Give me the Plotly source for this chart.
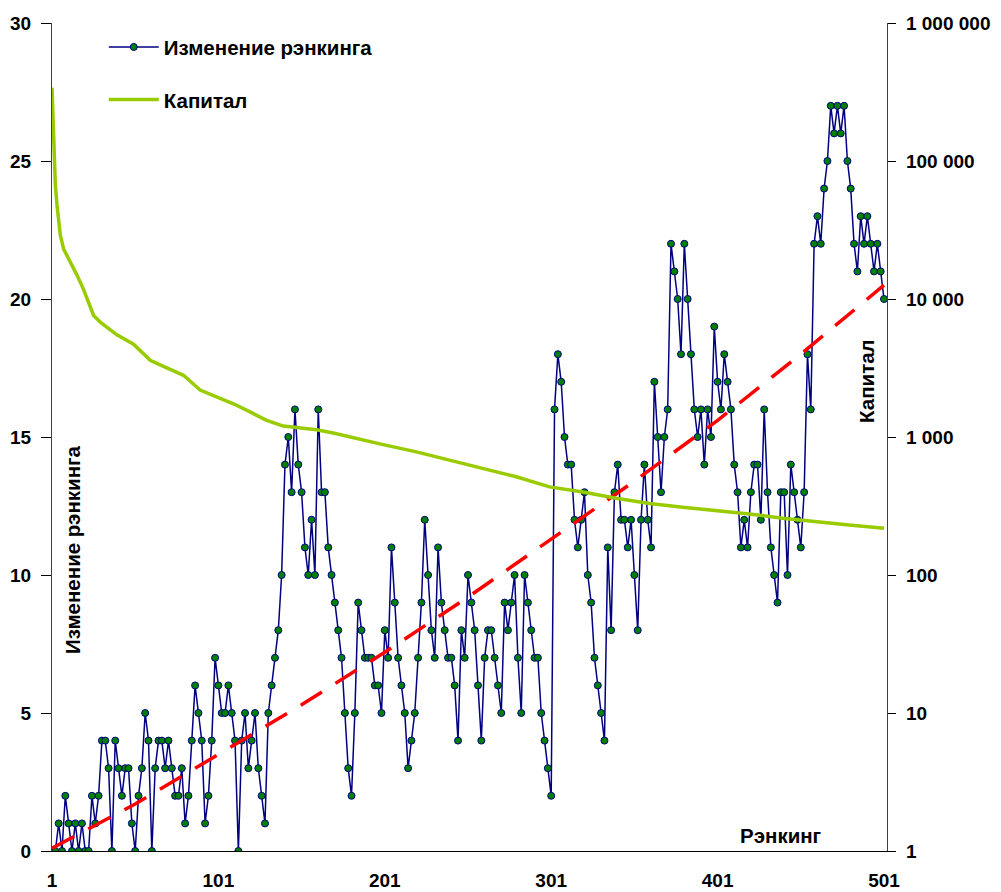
import plotly.graph_objects as go

# ---------------- data ----------------
rank_ticks = [1, 101, 201, 301, 401, 501]
rank_labels = ["1", "101", "201", "301", "401", "501"]

ranks = list(range(1, 502, 2))
ranking_change = [
    0, 0, 1, 0, 2, 1, 0, 1, 0, 1,
    0, 0, 2, 1, 2, 4, 4, 3, 0, 4,
    3, 2, 3, 3, 1, 0, 2, 3, 5, 4,
    0, 3, 4, 4, 3, 4, 3, 2, 2, 3,
    1, 2, 4, 6, 5, 4, 1, 2, 4, 7,
    6, 5, 5, 6, 5, 4, 0, 4, 5, 3,
    4, 5, 3, 2, 1, 5, 6, 7, 8, 10,
    14, 15, 13, 16, 14, 13, 11, 10, 12, 10,
    16, 13, 13, 11, 10, 9, 8, 7, 5, 3,
    2, 5, 9, 8, 7, 7, 7, 6, 6, 5,
    8, 7, 11, 9, 7, 6, 5, 3, 4, 5,
    7, 9, 12, 10, 8, 7, 11, 9, 8, 7,
    7, 6, 4, 8, 7, 10, 9, 8, 6, 4,
    7, 8, 8, 7, 6, 5, 9, 8, 9, 10,
    7, 5, 10, 9, 8, 7, 7, 5, 4, 3,
    2, 16, 18, 17, 15, 14, 14, 12, 11, 12,
    13, 10, 9, 7, 6, 5, 4, 11, 8, 13,
    14, 12, 12, 11, 12, 10, 8, 12, 14, 12,
    11, 17, 15, 13, 15, 16, 22, 21, 20, 18,
    22, 20, 18, 16, 15, 16, 14, 16, 15, 19,
    17, 16, 18, 17, 16, 14, 13, 11, 12, 11,
    13, 14, 14, 12, 16, 13, 11, 10, 9, 13,
    13, 10, 14, 13, 12, 11, 13, 18, 16, 22,
    23, 22, 24, 25, 27, 26, 27, 26, 27, 25,
    24, 22, 21, 23, 22, 23, 22, 21, 22, 21,
    20,
]

capital_ranks = [1, 2, 3, 4, 6, 8, 12, 16, 20, 26, 30, 40, 50, 60, 70, 80, 90,
                 100, 110, 120, 130, 140, 150, 160, 170, 180, 200, 220, 240,
                 260, 280, 300, 320, 340, 360, 380, 400, 420, 440, 460, 480, 501]
capital = [340000, 120000, 67000, 48000, 29000, 23000, 18600, 14900, 11700,
           7600, 6800, 5500, 4700, 3600, 3170, 2800, 2190, 1950, 1740, 1520,
           1320, 1200, 1160, 1130, 1070, 1000, 880, 780, 680, 595, 515, 435,
           400, 360, 330, 310, 295, 277, 258, 242, 230, 218]

trend_ranks = [1, 51, 101, 151, 201, 251, 301, 351, 401, 451, 501]
trend_values = [0.1, 1.7, 3.5, 5.3, 7.2, 9.2, 11.3, 13.4, 15.6, 18.0, 20.5]

cap_ticks = [1, 10, 100, 1000, 10000, 100000, 1000000]
cap_labels = ["1", "10", "100", "1 000", "10 000", "100 000", "1 000 000"]

left_ticks = [0, 5, 10, 15, 20, 25, 30]

# ---------------- styling ----------------
FONT = "Liberation Sans, Arial, sans-serif"
FS = 19      # tick labels
TFS = 20.5   # legend / titles

fig = go.Figure()

fig.add_trace(go.Scatter(
    x=ranks, y=ranking_change, name="Изменение рэнкинга",
    mode="lines+markers",
    line=dict(color="#000080", width=1.5),
    marker=dict(color="#008000", size=7, line=dict(color="#000080", width=1)),
    legendgroup="a", xaxis="x", yaxis="y",
))

fig.add_trace(go.Scatter(
    x=capital_ranks, y=capital, name="Капитал",
    mode="lines",
    line=dict(color="#99CC00", width=3.5),
    legendgroup="b", xaxis="x", yaxis="y2",
))

fig.add_trace(go.Scatter(
    x=trend_ranks, y=trend_values, name="trend",
    mode="lines", line=dict(color="#FF0000", width=3.5, dash="25px,16px"),
    showlegend=False, xaxis="x", yaxis="y",
))

fig.update_layout(
    width=1001, height=892,
    margin=dict(l=52, r=114, t=23, b=41, autoexpand=False),
    paper_bgcolor="white", plot_bgcolor="white",
    font=dict(family=FONT, size=FS, color="black"),
    showlegend=True,
    legend=dict(
        x=0.062, y=0.995, xanchor="left", yanchor="top",
        bgcolor="rgba(0,0,0,0)", borderwidth=0,
        font=dict(family=FONT, size=TFS, color="black", weight="bold"),
        traceorder="grouped", tracegroupgap=23, itemwidth=50,
    ),
    xaxis=dict(
        range=[1, 502.8], tickmode="array", tickvals=rank_ticks,
        ticktext=rank_labels, showgrid=False, zeroline=False,
        showline=True, linecolor="black", linewidth=1.3, ticks="",
        tickfont=dict(family=FONT, size=FS, color="black", weight="bold"),
        ticklabelstandoff=12,
    ),
    yaxis=dict(
        range=[0, 30], tickmode="array", tickvals=left_ticks,
        showgrid=False, zeroline=False, showline=True, linecolor="#404040",
        linewidth=1.3, ticks="outside", ticklen=10, tickcolor="black",
        tickwidth=1.2,
        tickfont=dict(family=FONT, size=FS, color="black", weight="bold"),
        ticklabelstandoff=6,
    ),
    yaxis2=dict(
        type="log", range=[0, 6], overlaying="y", side="right", anchor="x",
        tickmode="array", tickvals=cap_ticks, ticktext=cap_labels,
        showgrid=False, zeroline=False, showline=True, linecolor="#404040",
        linewidth=1.3, ticks="outside", ticklen=8, tickcolor="black",
        tickwidth=1.2,
        tickfont=dict(family=FONT, size=FS, color="black", weight="bold"),
        ticklabelstandoff=6,
    ),
    annotations=[
        dict(text="Изменение рэнкинга", xref="paper", yref="paper",
             x=(72 - 52) / 835, y=(851 - 550) / 828, textangle=-90,
             showarrow=False, xanchor="center", yanchor="middle",
             font=dict(family=FONT, size=TFS, color="black", weight="bold")),
        dict(text="Капитал", xref="paper", yref="paper",
             x=(866 - 52) / 835, y=(851 - 381) / 828, textangle=-90,
             showarrow=False, xanchor="center", yanchor="middle",
             font=dict(family=FONT, size=TFS, color="black", weight="bold")),
        dict(text="Рэнкинг", xref="paper", yref="paper",
             x=(780 - 52) / 835, y=(851 - 835) / 828,
             showarrow=False, xanchor="center", yanchor="middle",
             font=dict(family=FONT, size=TFS, color="black", weight="bold")),
    ],
)

fig.write_html("out.html", config={"displayModeBar": False},
               post_script="document.body.style.margin='0px';")
